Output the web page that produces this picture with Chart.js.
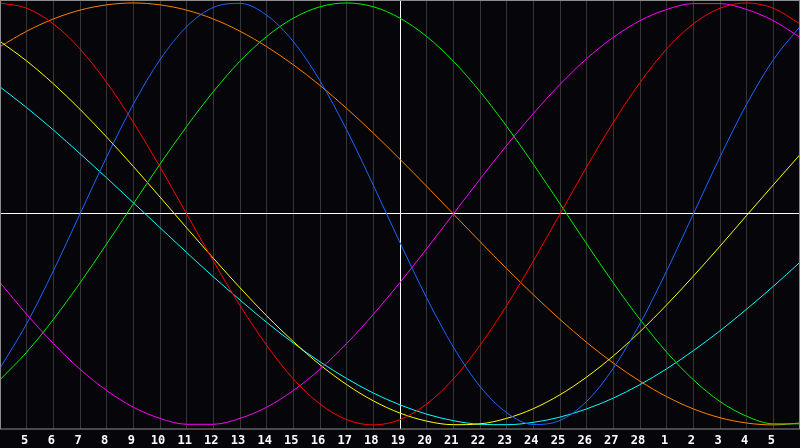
<!DOCTYPE html>
<html>
<head>
<meta charset="utf-8">
<script src="https://cdn.jsdelivr.net/npm/chart.js@4"></script>
<style>
  html, body { margin: 0; padding: 0; background: #060509; }
  canvas { display: block; }
</style>
</head>
<body>
<canvas id="bioChart" width="800" height="448"></canvas>
<script>
// day labels, first and last are edges of the plot (not labelled)
const dayLabels = ["4", "5", "6", "7", "8", "9", "10", "11", "12", "13", "14", "15", "16", "17", "18",
    "19", "20", "21", "22", "23", "24", "25", "26", "27", "28", "1", "2", "3", "4", "5", "6"];
const todayIndex = 15;

const physical = [-0.731, -0.520, -0.270, 0.000, 0.270, 0.520, 0.731, 0.888, 0.979, 0.998, 0.942, 0.817, 0.631, 0.398, 0.136,
    -0.136, -0.398, -0.631, -0.817, -0.942, -0.998, -0.979, -0.888, -0.731, -0.520, -0.270, 0.000, 0.270, 0.520, 0.731, 0.888];
const emotional = [1.000, 0.975, 0.901, 0.782, 0.623, 0.434, 0.223, 0.000, -0.223, -0.434, -0.623, -0.782, -0.901, -0.975, -1.000,
    -0.975, -0.901, -0.782, -0.623, -0.434, -0.223, 0.000, 0.223, 0.434, 0.623, 0.782, 0.901, 0.975, 1.000, 0.975, 0.901];
const intellectual = [-0.786, -0.655, -0.500, -0.327, -0.142, 0.048, 0.236, 0.415, 0.580, 0.724, 0.841, 0.928, 0.982, 1.000, 0.982,
    0.928, 0.841, 0.724, 0.580, 0.415, 0.236, 0.048, -0.142, -0.327, -0.500, -0.655, -0.786, -0.889, -0.959, -0.995, -0.995];
const intuitive = [-0.325, -0.476, -0.614, -0.736, -0.837, -0.916, -0.969, -0.997, -0.997, -0.969, -0.916, -0.837, -0.736, -0.614, -0.476,
    -0.325, -0.165, 0.000, 0.165, 0.325, 0.476, 0.614, 0.736, 0.837, 0.916, 0.969, 0.997, 0.997, 0.969, 0.916, 0.837];
const aesthetic = [0.818, 0.725, 0.617, 0.496, 0.364, 0.225, 0.080, -0.066, -0.210, -0.350, -0.483, -0.605, -0.715, -0.809, -0.886,
    -0.944, -0.982, -0.999, -0.995, -0.969, -0.923, -0.857, -0.773, -0.673, -0.558, -0.431, -0.295, -0.153, -0.007, 0.138, 0.281];
const awareness = [0.793, 0.866, 0.924, 0.966, 0.991, 1.000, 0.991, 0.966, 0.924, 0.866, 0.793, 0.707, 0.609, 0.500, 0.383,
    0.259, 0.131, 0.000, -0.131, -0.259, -0.383, -0.500, -0.609, -0.707, -0.793, -0.866, -0.924, -0.966, -0.991, -1.000, -0.991];
const spiritual = [0.602, 0.504, 0.398, 0.286, 0.171, 0.053, -0.065, -0.183, -0.298, -0.408, -0.514, -0.612, -0.701, -0.780, -0.849,
    -0.905, -0.949, -0.980, -0.997, -0.999, -0.988, -0.963, -0.924, -0.873, -0.809, -0.734, -0.648, -0.554, -0.451, -0.343, -0.229];

// frame + background, drawn around the chart area
const framePlugin = {
    id: "frame",
    beforeDraw(chart) {
        let ctx = chart.ctx;
        ctx.save();
        ctx.fillStyle = "#060509";
        ctx.fillRect(0, 0, chart.width, chart.height);
        ctx.restore();
    },
    afterDraw(chart) {
        let a = chart.chartArea;
        let ctx = chart.ctx;
        ctx.save();
        ctx.strokeStyle = "#8c8c8c";
        ctx.lineWidth = 1;
        ctx.strokeRect(a.left + 0.5, a.top + 0.5, a.right - a.left - 1, a.bottom - a.top);
        ctx.restore();
    }
};

function line(label, data, color) {
    return {
        label: label,
        data: data,
        borderColor: color,
        borderWidth: 1,
        pointRadius: 0,
        cubicInterpolationMode: "monotone",
        fill: false
    };
}

new Chart(document.getElementById("bioChart"), {
    type: "line",
    data: {
        labels: dayLabels,
        datasets: [
            line("Physical", physical, "#1a66ff"),
            line("Emotional", emotional, "#ff0000"),
            line("Intellectual", intellectual, "#00f000"),
            line("Intuitive", intuitive, "#ff00ff"),
            line("Aesthetic", aesthetic, "#ffff00"),
            line("Awareness", awareness, "#ff8000"),
            line("Spiritual", spiritual, "#00ffff")
        ]
    },
    options: {
        responsive: false,
        animation: false,
        devicePixelRatio: 1,
        layout: { padding: 0 },
        plugins: {
            legend: { display: false },
            tooltip: { enabled: false }
        },
        scales: {
            x: {
                offset: false,
                border: { display: false },
                grid: {
                    drawTicks: false,
                    color: (c) => c.tick && c.tick.value === todayIndex ? "#ffffff" : "#363636"
                },
                ticks: {
                    autoSkip: false,
                    maxRotation: 0,
                    padding: 5,
                    labelOffset: -2,
                    color: "#ffffff",
                    font: { family: "DejaVu Sans Mono", size: 12, weight: "bold" },
                    callback: (v, i) => (i === 0 || i === dayLabels.length - 1) ? "" : dayLabels[i]
                },
                afterFit: (scale) => {
                    scale.height = 19.5;
                    scale.paddingLeft = 0;
                    scale.paddingRight = 0;
                }
            },
            y: {
                min: -1.017,
                max: 1.014,
                border: { display: false },
                grid: {
                    drawTicks: false,
                    color: (c) => c.tick && c.tick.value === 0 ? "#ffffff" : "rgba(0,0,0,0)"
                },
                ticks: { display: false, stepSize: 1 },
                afterFit: (scale) => {
                    scale.width = 0;
                }
            }
        }
    },
    plugins: [framePlugin]
});
</script>
</body>
</html>
